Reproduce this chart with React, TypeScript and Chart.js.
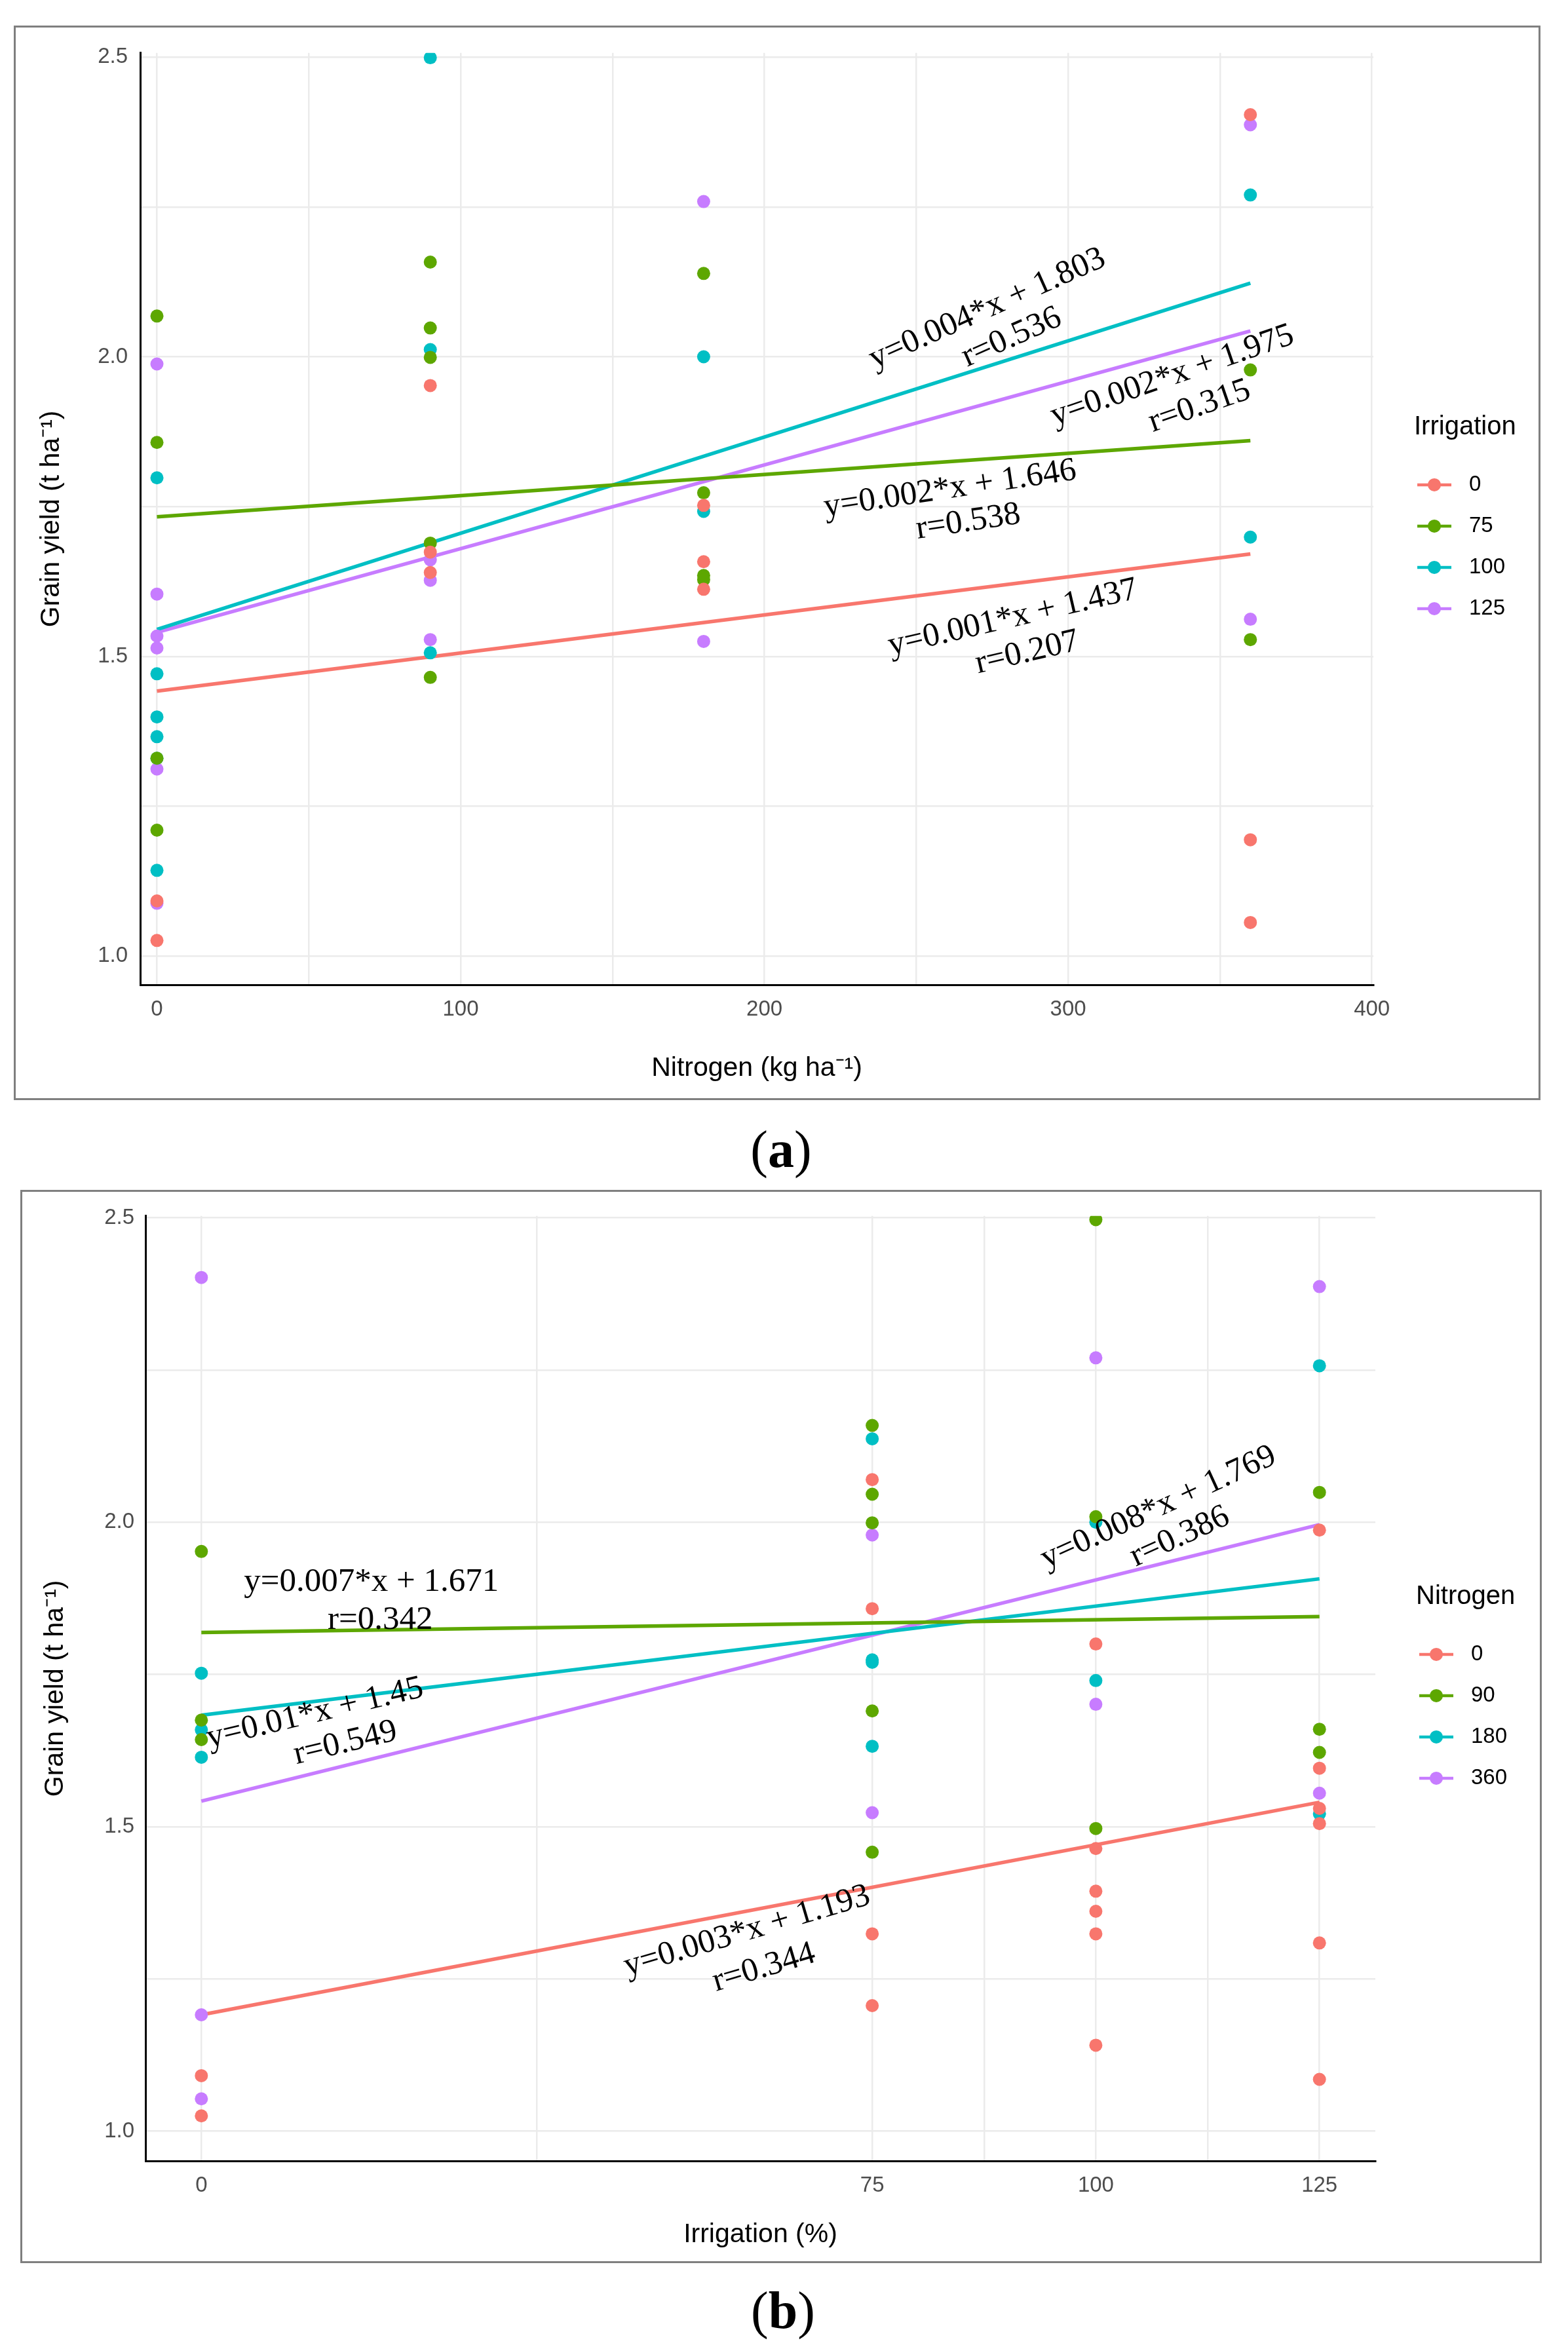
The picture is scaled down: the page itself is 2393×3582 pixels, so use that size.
import { useEffect, useRef } from 'react';
import { Chart, registerables, ChartConfiguration } from 'chart.js';

Chart.register(...registerables);

const SANS = "'Liberation Sans', Arial, Helvetica, sans-serif";
const SERIF = "'Liberation Serif', 'Times New Roman', Times, serif";
const PALETTE = ['#F8766D', '#5DA700', '#00BFC4', '#C77CFF'];

// ---------- (a) grain yield against nitrogen, coloured by irrigation ----------
const nitrogenLevels = [0, 90, 180, 360];
const irrigationGroups = ['0', '75', '100', '125'];
// one list of yields per nitrogen level
const yieldIrr0 = [[1.092, 1.026], [1.952, 1.674, 1.640], [1.752, 1.658, 1.612], [2.404, 1.194, 1.056]];
const yieldIrr75 = [[2.068, 1.857, 1.330, 1.210], [2.158, 2.048, 1.999, 1.689, 1.465], [2.139, 1.773, 1.635, 1.628], [1.978, 1.528]];
const yieldIrr100 = [[1.798, 1.471, 1.399, 1.366, 1.330, 1.143], [2.499, 2.012, 1.506], [2.000, 1.742], [2.270, 1.699]];
const yieldIrr125 = [[1.988, 1.604, 1.534, 1.514, 1.312, 1.088], [1.661, 1.627, 1.528], [2.259, 1.525], [2.387, 1.562]];
// fitted lines, value at first and last nitrogen level
const nitrogenFitX = [0, 360];
const fitIrr0 = [1.442, 1.671];
const fitIrr75 = [1.733, 1.860];
const fitIrr100 = [1.545, 2.123];
const fitIrr125 = [1.540, 2.043];
const nitrogenTicks = [0, 100, 200, 300, 400];
const nitrogenGrid = [0, 50, 100, 150, 200, 250, 300, 350, 400];
const eqNitrogen = ['y=0.001*x + 1.437', 'y=0.002*x + 1.646', 'y=0.004*x + 1.803', 'y=0.002*x + 1.975'];
const rNitrogen = ['r=0.207', 'r=0.538', 'r=0.536', 'r=0.315'];

// ---------- (b) grain yield against irrigation, coloured by nitrogen ----------
const irrigationLevels = [0, 75, 100, 125];
const nitrogenGroups = ['0', '90', '180', '360'];
const yieldN0 = [[1.091, 1.025], [2.070, 1.858, 1.324, 1.206], [1.800, 1.464, 1.394, 1.361, 1.324, 1.141], [1.987, 1.596, 1.530, 1.505, 1.309, 1.085]];
const yieldN90 = [[1.952, 1.675, 1.643], [2.159, 2.046, 1.999, 1.690, 1.458], [2.497, 2.009, 1.497], [2.049, 1.660, 1.622]];
const yieldN180 = [[1.752, 1.659, 1.614], [2.137, 1.774, 1.770, 1.632], [2.000, 1.740], [2.257, 1.521]];
const yieldN360 = [[2.402, 1.191, 1.053], [1.979, 1.523], [2.270, 1.701], [2.387, 1.555]];
const irrigationFitX = [0, 125];
const fitN0 = [1.191, 1.540];
const fitN90 = [1.819, 1.845];
const fitN180 = [1.683, 1.907];
const fitN360 = [1.542, 1.996];
const irrigationTicks = [0, 75, 100, 125];
const irrigationGrid = [0, 37.5, 75, 87.5, 100, 112.5, 125];
const eqIrrigation = ['y=0.003*x + 1.193', 'y=0.007*x + 1.671', 'y=0.01*x + 1.45', 'y=0.008*x + 1.769'];
const rIrrigation = ['r=0.344', 'r=0.342', 'r=0.549', 'r=0.386'];

const yieldTicks = [1.0, 1.5, 2.0, 2.5];
const yieldGrid = [1.0, 1.25, 1.5, 1.75, 2.0, 2.25, 2.5];

type Note = { text: string; x: number; y: number; angle: number };

interface PanelSpec {
  frame: { left: number; top: number; width: number; height: number };
  levels: number[];
  groups: number[][][];
  groupLabels: string[];
  fitX: number[];
  fits: number[][];
  xMin: number; xMax: number; yMin: number; yMax: number;
  xTicks: number[]; xGrid: number[];
  xTitle: string; legendTitle: string;
  notes: Note[];
  yAxisWidth: number; xAxisHeight: number; padTop: number; padRight: number;
  xTitlePad: number; yTitlePad: number; yTickPad: number;
}

const panelA: PanelSpec = {
  frame: { left: 21, top: 39, width: 2330, height: 1640 },
  levels: nitrogenLevels,
  groups: [yieldIrr0, yieldIrr75, yieldIrr100, yieldIrr125],
  groupLabels: irrigationGroups,
  fitX: nitrogenFitX,
  fits: [fitIrr0, fitIrr75, fitIrr100, fitIrr125],
  xMin: -5.5, xMax: 400.5, yMin: 0.952, yMax: 2.507,
  xTicks: nitrogenTicks, xGrid: nitrogenGrid,
  xTitle: 'Nitrogen (kg ha\u207B\u00B9)', legendTitle: 'Irrigation',
  notes: [
    { text: eqNitrogen[0], x: 281.8, y: 1.564, angle: 13 },
    { text: rNitrogen[0], x: 286.5, y: 1.506, angle: 13 },
    { text: eqNitrogen[1], x: 261.1, y: 1.779, angle: 8.5 },
    { text: rNitrogen[1], x: 267.1, y: 1.724, angle: 8.5 },
    { text: eqNitrogen[2], x: 273.4, y: 2.080, angle: 24 },
    { text: rNitrogen[2], x: 281.4, y: 2.032, angle: 24 },
    { text: eqNitrogen[3], x: 334.3, y: 1.968, angle: 19 },
    { text: rNitrogen[3], x: 343.3, y: 1.917, angle: 19 },
  ],
  yAxisWidth: 190, xAxisHeight: 173, padTop: 18, padRight: 252,
  xTitlePad: 21, yTitlePad: 30, yTickPad: 19,
};

const panelB: PanelSpec = {
  frame: { left: 31, top: 1816, width: 2322, height: 1638 },
  levels: irrigationLevels,
  groups: [yieldN0, yieldN90, yieldN180, yieldN360],
  groupLabels: nitrogenGroups,
  fitX: irrigationFitX,
  fits: [fitN0, fitN90, fitN180, fitN360],
  xMin: -6.25, xMax: 131.25, yMin: 0.951, yMax: 2.503,
  xTicks: irrigationTicks, xGrid: irrigationGrid,
  xTitle: 'Irrigation (%)', legendTitle: 'Nitrogen',
  notes: [
    { text: eqIrrigation[0], x: 61.0, y: 1.328, angle: 16.5 },
    { text: rIrrigation[0], x: 62.9, y: 1.268, angle: 16.5 },
    { text: eqIrrigation[1], x: 19.0, y: 1.902, angle: 0 },
    { text: rIrrigation[1], x: 20.0, y: 1.839, angle: 0 },
    { text: eqIrrigation[2], x: 12.7, y: 1.686, angle: 13.4 },
    { text: rIrrigation[2], x: 16.1, y: 1.637, angle: 13.4 },
    { text: eqIrrigation[3], x: 107.0, y: 2.024, angle: 24.6 },
    { text: rIrrigation[3], x: 109.4, y: 1.976, angle: 24.6 },
  ],
  yAxisWidth: 188, xAxisHeight: 153, padTop: 18, padRight: 251,
  xTitlePad: 16, yTitlePad: 26, yTickPad: 17,
};

function notesPlugin(notes: Note[]) {
  return {
    id: 'fitNotes',
    afterDatasetsDraw(chart: Chart) {
      const { ctx } = chart;
      const xs = chart.scales.x;
      const ys = chart.scales.y;
      ctx.save();
      ctx.font = `51px ${SERIF}`;
      ctx.fillStyle = '#000';
      ctx.textAlign = 'center';
      ctx.textBaseline = 'middle';
      notes.forEach((n) => {
        ctx.save();
        ctx.translate(xs.getPixelForValue(n.x), ys.getPixelForValue(n.y));
        ctx.rotate((-n.angle * Math.PI) / 180);
        ctx.fillText(n.text, 0, 0);
        ctx.restore();
      });
      ctx.restore();
    },
  };
}

function legendPlugin(title: string, labels: string[]) {
  return {
    id: 'sideLegend',
    afterDraw(chart: Chart) {
      const { ctx, chartArea } = chart;
      const cy = (chartArea.top + chartArea.bottom) / 2;
      const left = chartArea.right + 62;
      ctx.save();
      ctx.fillStyle = '#000';
      ctx.textAlign = 'left';
      ctx.textBaseline = 'middle';
      ctx.font = `40px ${SANS}`;
      ctx.fillText(title, left, cy - 140);
      ctx.font = `33px ${SANS}`;
      labels.forEach((lab, i) => {
        const y = cy - 52 + i * 63;
        ctx.strokeStyle = PALETTE[i];
        ctx.lineWidth = 4.5;
        ctx.beginPath();
        ctx.moveTo(left + 5, y);
        ctx.lineTo(left + 57, y);
        ctx.stroke();
        ctx.fillStyle = PALETTE[i];
        ctx.beginPath();
        ctx.arc(left + 31, y, 10, 0, Math.PI * 2);
        ctx.fill();
        ctx.fillStyle = '#000';
        ctx.fillText(lab, left + 84, y);
      });
      ctx.restore();
    },
  };
}

function buildConfig(spec: PanelSpec): ChartConfiguration {
  const points = spec.groups.map((g, i) => ({
    type: 'scatter' as const,
    label: spec.groupLabels[i],
    data: g.flatMap((ys, j) => ys.map((y) => ({ x: spec.levels[j], y }))),
    backgroundColor: PALETTE[i],
    pointRadius: 10,
    pointHoverRadius: 10,
    pointBorderWidth: 0,
    order: 0,
  }));
  const fits = spec.fits.map((f, i) => ({
    type: 'line' as const,
    label: 'fit ' + spec.groupLabels[i],
    data: spec.fitX.map((x, k) => ({ x, y: f[k] })),
    borderColor: PALETTE[i],
    borderWidth: 5.5,
    pointRadius: 0,
    fill: false,
    order: 1,
  }));

  return {
    type: 'scatter',
    data: { datasets: [...points, ...fits] as any },
    options: {
      animation: false,
      responsive: true,
      maintainAspectRatio: false,
      layout: { padding: { top: spec.padTop, right: spec.padRight, left: 0, bottom: 0 } },
      plugins: { legend: { display: false }, tooltip: { enabled: false } },
      scales: {
        x: {
          type: 'linear',
          min: spec.xMin,
          max: spec.xMax,
          afterBuildTicks: (s: any) => { s.ticks = spec.xGrid.map((value) => ({ value })); },
          afterFit: (s: any) => { s.height = spec.xAxisHeight; },
          ticks: {
            autoSkip: false,
            maxRotation: 0,
            padding: 18,
            color: '#4D4D4D',
            font: { size: 33, family: SANS },
            callback: (v: any) => (spec.xTicks.includes(Number(v)) ? String(v) : ''),
          },
          grid: { color: '#EBEBEB', lineWidth: 2.5, drawTicks: false },
          border: { display: true, color: '#000', width: 3 },
          title: {
            display: true,
            text: spec.xTitle,
            color: '#000',
            font: { size: 41, family: SANS },
            padding: { top: 0, bottom: spec.xTitlePad },
          },
        },
        y: {
          type: 'linear',
          min: spec.yMin,
          max: spec.yMax,
          afterBuildTicks: (s: any) => { s.ticks = yieldGrid.map((value) => ({ value })); },
          afterFit: (s: any) => { s.width = spec.yAxisWidth; },
          ticks: {
            padding: spec.yTickPad,
            color: '#4D4D4D',
            font: { size: 33, family: SANS },
            callback: (v: any) => (yieldTicks.includes(Number(v)) ? Number(v).toFixed(1) : ''),
          },
          grid: { color: '#EBEBEB', lineWidth: 2.5, drawTicks: false },
          border: { display: true, color: '#000', width: 3 },
          title: {
            display: true,
            text: 'Grain yield (t ha\u207B\u00B9)',
            color: '#000',
            font: { size: 41, family: SANS },
            padding: { top: spec.yTitlePad, bottom: 0 },
          },
        },
      },
    },
    plugins: [notesPlugin(spec.notes), legendPlugin(spec.legendTitle, spec.groupLabels)],
  } as ChartConfiguration;
}

function Panel({ spec }: { spec: PanelSpec }) {
  const canvasRef = useRef<HTMLCanvasElement>(null);
  const chartRef = useRef<Chart | null>(null);

  useEffect(() => {
    if (!canvasRef.current) return;
    if (chartRef.current) chartRef.current.destroy();
    chartRef.current = new Chart(canvasRef.current, buildConfig(spec));
    return () => { chartRef.current?.destroy(); chartRef.current = null; };
  }, [spec]);

  const f = spec.frame;
  return (
    <div style={{ position: 'absolute', left: f.left, top: f.top, width: f.width, height: f.height, border: '3px solid #7f7f7f', boxSizing: 'border-box', background: '#fff' }}>
      <div style={{ position: 'relative', width: '100%', height: '100%' }}>
        <canvas ref={canvasRef} />
      </div>
    </div>
  );
}

function Caption({ letter, cx, top }: { letter: string; cx: number; top: number }) {
  return (
    <div style={{ position: 'absolute', left: cx - 200, top, width: 400, textAlign: 'center', fontFamily: SERIF, fontSize: 80, lineHeight: '80px', color: '#000' }}>
      (<b>{letter}</b>)
    </div>
  );
}

export default function App() {
  useEffect(() => { document.body.style.margin = '0'; }, []);
  return (
    <div style={{ position: 'absolute', left: 0, top: 0, width: 2393, height: 3582, background: '#fff' }}>
      <Panel spec={panelA} />
      <Caption letter="a" cx={1192} top={1714} />
      <Panel spec={panelB} />
      <Caption letter="b" cx={1195} top={3486} />
    </div>
  );
}
